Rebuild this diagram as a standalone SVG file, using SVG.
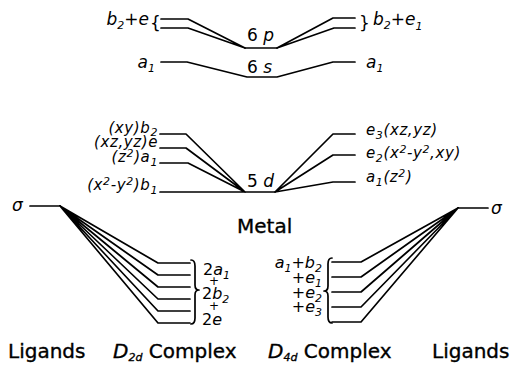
<svg xmlns="http://www.w3.org/2000/svg" width="510" height="369" viewBox="0 0 510 369">
<style>
.ln{fill:none;stroke:#000;stroke-width:1.7;stroke-linejoin:round;stroke-linecap:round}
.it{font-family:"DejaVu Sans","Liberation Sans",sans-serif;font-style:italic;font-size:17px;fill:#000}
.lb{font-family:"DejaVu Sans","Liberation Sans",sans-serif;font-style:italic;font-size:15px;letter-spacing:0.6px;fill:#000}
.sm{font-family:"DejaVu Sans","Liberation Sans",sans-serif;font-style:italic;font-size:16px;fill:#000}
.up{font-family:"DejaVu Sans","Liberation Sans",sans-serif;font-size:20px;fill:#000;stroke:#000;stroke-width:0.35}
.rm{font-style:normal}
.s{font-size:11px}
.p{font-size:12px;font-style:normal}
</style>
<rect width="510" height="369" fill="#fff"/>
<g id="connectors">
<path class="ln" d="M161,19 H188 L245,48 M161,28 H188 L245,48"/>
<path class="ln" d="M245,48 H277"/>
<path class="ln" d="M277,48 L333,18 H355 M277,48 L334,28 H355"/>
<path class="ln" d="M161,62 H187 L247,77 H277 L333,62 H355"/>
<path class="ln" d="M160,134 H186 L245,192 M160,148 H186 L245,192 M160,163 H188 L245,192 M160,192 H275"/>
<path class="ln" d="M275,192 L333,134 H355 M275,192 L333,155 H355 M275,192 L333,182 H355"/>
<path class="ln" d="M30,206 H60 M60,206 L158,263 H190 M60,206 L158,275 H190 M60,206 L158,287 H190 M60,206 L158,299 H190 M60,206 L158,311 H190 M60,206 L158,323 H190"/>
<path class="ln" d="M488,208 H458 M458,208 L361,262 H332 M458,208 L361,277 H332 M458,208 L361,292 H332 M458,208 L361,307 H332 M458,208 L361,322 H332"/>
<path class="ln" d="M191,260 Q195,260 195,266 L195,285 Q195,290 199,290 Q195,290 195,295 L195,318 Q195,324 191,324"/>
<path class="ln" d="M332,258 Q328,258 328,264 L328,286 Q328,291 324,291 Q328,291 328,296 L328,317 Q328,323 332,323"/>
</g>
<g id="metal">
<text class="it" x="247" y="41"><tspan class="rm">6</tspan> p</text>
<text class="it" x="247" y="73"><tspan class="rm">6</tspan> s</text>
<text class="it" x="247" y="187"><tspan class="rm">5</tspan> d</text>
<text class="up" x="237" y="233">Metal</text>
</g>
<g id="d2d-levels">
<text class="it" x="149" y="25" text-anchor="end">b<tspan class="s" dy="4">2</tspan><tspan dy="-4">+e</tspan></text>
<text class="it rm" x="150" y="29" font-size="19">{</text>
<text class="it" x="155" y="68" text-anchor="end">a<tspan class="s" dy="4">1</tspan></text>
<text class="lb" x="158" y="133" text-anchor="end">(xy)b<tspan class="s" dy="3">2</tspan></text>
<text class="lb" x="158" y="147" text-anchor="end">(xz,yz)e</text>
<text class="lb" x="158" y="162" text-anchor="end">(z<tspan class="s" dy="-5">2</tspan><tspan dy="5">)a</tspan><tspan class="s" dy="4">1</tspan></text>
<text class="lb" x="158" y="190" text-anchor="end">(x<tspan class="s" dy="-5">2</tspan><tspan dy="5">-y</tspan><tspan class="s" dy="-5">2</tspan><tspan dy="5">)b</tspan><tspan class="s" dy="4">1</tspan></text>
</g>
<g id="d4d-levels">
<text class="it rm" x="359" y="29" font-size="19">}</text>
<text class="it" x="373" y="25">b<tspan class="s" dy="4">2</tspan><tspan dy="-4">+e</tspan><tspan class="s" dy="5">1</tspan></text>
<text class="it" x="366" y="68">a<tspan class="s" dy="4">1</tspan></text>
<text class="lb" x="366" y="135">e<tspan class="s" dy="4">3</tspan><tspan dy="-4">(xz,yz)</tspan></text>
<text class="lb" x="366" y="158">e<tspan class="s" dy="4">2</tspan><tspan dy="-4">(x</tspan><tspan class="s" dy="-5">2</tspan><tspan dy="5">-y</tspan><tspan class="s" dy="-5">2</tspan><tspan dy="5">,xy)</tspan></text>
<text class="lb" x="366" y="182">a<tspan class="s" dy="4">1</tspan><tspan dy="-4">(z</tspan><tspan class="s" dy="-5">2</tspan><tspan dy="5">)</tspan></text>
</g>
<g id="ligands-left">
<text class="it" x="12" y="211" font-size="20">σ</text>
</g>
<g id="ligands-right">
<text class="it" x="491" y="214" font-size="20">σ</text>
</g>
<g id="d2d-bottom">
<text class="sm" x="203" y="275"><tspan class="rm">2</tspan>a<tspan class="s" dy="4">1</tspan></text>
<text class="sm p" x="209" y="285">+</text>
<text class="sm" x="202" y="299"><tspan class="rm">2</tspan>b<tspan class="s" dy="4">2</tspan></text>
<text class="sm p" x="209" y="310">+</text>
<text class="sm" x="202" y="325"><tspan class="rm">2</tspan>e</text>
</g>
<g id="d4d-bottom">
<text class="sm" x="322" y="268" text-anchor="end">a<tspan class="s" dy="4">1</tspan><tspan dy="-4">+b</tspan><tspan class="s" dy="4">2</tspan></text>
<text class="sm" x="322" y="283" text-anchor="end">+e<tspan class="s" dy="4">1</tspan></text>
<text class="sm" x="322" y="298" text-anchor="end">+e<tspan class="s" dy="4">2</tspan></text>
<text class="sm" x="322" y="312" text-anchor="end">+e<tspan class="s" dy="4">3</tspan></text>
</g>
<g id="captions">
<text class="up" x="8" y="358">Ligands</text>
<text class="up" x="113" y="358"><tspan font-style="italic">D</tspan><tspan class="s" dy="3" font-style="italic">2d</tspan><tspan dy="-3"> Complex</tspan></text>
<text class="up" x="268" y="358"><tspan font-style="italic">D</tspan><tspan class="s" dy="3" font-style="italic">4d</tspan><tspan dy="-3"> Complex</tspan></text>
<text class="up" x="432" y="358">Ligands</text>
</g>
</svg>
